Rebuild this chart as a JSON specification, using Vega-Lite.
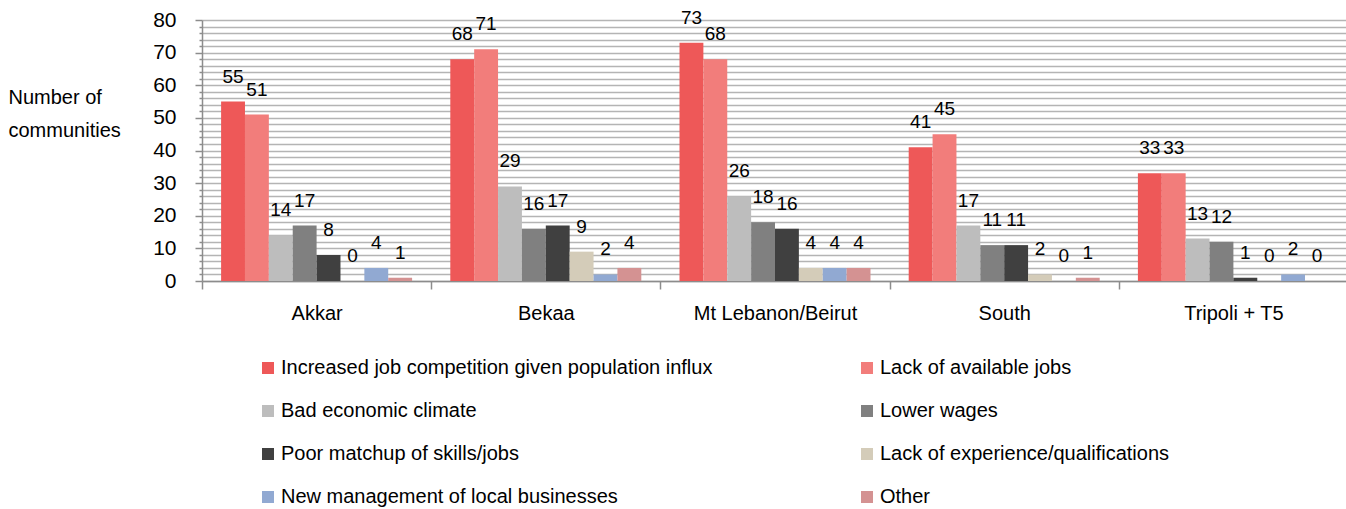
{
  "$schema": "https://vega.github.io/schema/vega-lite/v6.json",
  "autosize": {"type": "none"},
  "padding": {"left": 202, "top": 20, "right": 0, "bottom": 228},
  "width": 1146,
  "height": 261,
  "config": {
    "font": "Liberation Sans",
    "view": {"stroke": null},
    "axis": {"labelFont": "Liberation Sans", "titleFont": "Liberation Sans", "labelColor": "#000000", "titleColor": "#000000"}
  },
  "data": {
    "values": [
      {"region": "Akkar", "reason": "Increased job competition given population influx", "count": 55},
      {"region": "Akkar", "reason": "Lack of available jobs", "count": 51},
      {"region": "Akkar", "reason": "Bad economic climate", "count": 14},
      {"region": "Akkar", "reason": "Lower wages", "count": 17},
      {"region": "Akkar", "reason": "Poor matchup of skills/jobs", "count": 8},
      {"region": "Akkar", "reason": "Lack of experience/qualifications", "count": 0},
      {"region": "Akkar", "reason": "New management of local businesses", "count": 4},
      {"region": "Akkar", "reason": "Other", "count": 1},
      {"region": "Bekaa", "reason": "Increased job competition given population influx", "count": 68},
      {"region": "Bekaa", "reason": "Lack of available jobs", "count": 71},
      {"region": "Bekaa", "reason": "Bad economic climate", "count": 29},
      {"region": "Bekaa", "reason": "Lower wages", "count": 16},
      {"region": "Bekaa", "reason": "Poor matchup of skills/jobs", "count": 17},
      {"region": "Bekaa", "reason": "Lack of experience/qualifications", "count": 9},
      {"region": "Bekaa", "reason": "New management of local businesses", "count": 2},
      {"region": "Bekaa", "reason": "Other", "count": 4},
      {"region": "Mt Lebanon/Beirut", "reason": "Increased job competition given population influx", "count": 73},
      {"region": "Mt Lebanon/Beirut", "reason": "Lack of available jobs", "count": 68},
      {"region": "Mt Lebanon/Beirut", "reason": "Bad economic climate", "count": 26},
      {"region": "Mt Lebanon/Beirut", "reason": "Lower wages", "count": 18},
      {"region": "Mt Lebanon/Beirut", "reason": "Poor matchup of skills/jobs", "count": 16},
      {"region": "Mt Lebanon/Beirut", "reason": "Lack of experience/qualifications", "count": 4},
      {"region": "Mt Lebanon/Beirut", "reason": "New management of local businesses", "count": 4},
      {"region": "Mt Lebanon/Beirut", "reason": "Other", "count": 4},
      {"region": "South", "reason": "Increased job competition given population influx", "count": 41},
      {"region": "South", "reason": "Lack of available jobs", "count": 45},
      {"region": "South", "reason": "Bad economic climate", "count": 17},
      {"region": "South", "reason": "Lower wages", "count": 11},
      {"region": "South", "reason": "Poor matchup of skills/jobs", "count": 11},
      {"region": "South", "reason": "Lack of experience/qualifications", "count": 2},
      {"region": "South", "reason": "New management of local businesses", "count": 0},
      {"region": "South", "reason": "Other", "count": 1},
      {"region": "Tripoli + T5", "reason": "Increased job competition given population influx", "count": 33},
      {"region": "Tripoli + T5", "reason": "Lack of available jobs", "count": 33},
      {"region": "Tripoli + T5", "reason": "Bad economic climate", "count": 13},
      {"region": "Tripoli + T5", "reason": "Lower wages", "count": 12},
      {"region": "Tripoli + T5", "reason": "Poor matchup of skills/jobs", "count": 1},
      {"region": "Tripoli + T5", "reason": "Lack of experience/qualifications", "count": 0},
      {"region": "Tripoli + T5", "reason": "New management of local businesses", "count": 2},
      {"region": "Tripoli + T5", "reason": "Other", "count": 0}
    ]
  },
  "encoding": {
    "x": {
      "field": "region", "type": "nominal", "sort": null,
      "scale": {"paddingInner": 0, "paddingOuter": 0},
      "axis": {
        "title": null, "labelAngle": 0, "labelFontSize": 20, "labelPadding": 14,
        "tickBand": "extent", "tickSize": 8, "tickColor": "#8c8c8c", "tickWidth": 1.5,
        "domainColor": "#8c8c8c", "domainWidth": 1.5, "grid": false
      }
    },
    "xOffset": {
      "field": "reason", "type": "nominal",
      "sort": ["Increased job competition given population influx", "Lack of available jobs", "Bad economic climate", "Lower wages", "Poor matchup of skills/jobs", "Lack of experience/qualifications", "New management of local businesses", "Other"],
      "scale": {"paddingInner": 0, "paddingOuter": 0.8}
    },
    "y": {
      "field": "count", "type": "quantitative",
      "scale": {"domain": [0, 80], "nice": false},
      "axis": {
        "values": [0,2,4,6,8,10,12,14,16,18,20,22,24,26,28,30,32,34,36,38,40,42,44,46,48,50,52,54,56,58,60,62,64,66,68,70,72,74,76,78,80],
        "labelExpr": "datum.value % 10 === 0 ? datum.label : ''",
        "labelFontSize": 21, "labelPadding": 19,
        "tickSize": {"condition": {"test": "datum.value % 10 === 0", "value": 7}, "value": 3},
        "tickColor": "#8c8c8c", "tickWidth": 1.5,
        "domainColor": "#8c8c8c", "domainWidth": 1.5,
        "grid": true, "gridColor": "#b4b4b4", "gridWidth": 1.5,
        "title": ["Number of", "communities"],
        "titleAngle": 0, "titleFontSize": 20, "titleFontWeight": "normal",
        "titleAlign": "left", "titleBaseline": "middle",
        "titleX": -194, "titleY": 77, "titleLineHeight": 33
      }
    }
  },
  "layer": [
    {
      "mark": {"type": "bar"},
      "encoding": {
        "color": {
          "field": "reason", "type": "nominal",
          "scale": {
            "domain": ["Increased job competition given population influx", "Lack of available jobs", "Bad economic climate", "Lower wages", "Poor matchup of skills/jobs", "Lack of experience/qualifications", "New management of local businesses", "Other"],
            "range": ["#ee5858", "#f27d7b", "#bdbdbd", "#808080", "#404040", "#d4ccb9", "#91a9d2", "#d49292"]
          },
          "legend": {
            "title": null, "orient": "none", "legendX": 56, "legendY": 338,
            "values": ["Increased job competition given population influx", "Bad economic climate", "Poor matchup of skills/jobs", "New management of local businesses", "Lack of available jobs", "Lower wages", "Lack of experience/qualifications", "Other"],
            "columns": 2, "columnPadding": 144, "rowPadding": 23,
            "symbolType": "square", "symbolSize": 144, "symbolStrokeWidth": 0,
            "labelFontSize": 20, "labelFont": "Liberation Sans", "labelColor": "#000000",
            "labelOffset": 3, "labelLimit": 600
          }
        }
      }
    },
    {
      "mark": {"type": "text", "baseline": "bottom", "dy": -15, "fontSize": 19, "font": "Liberation Sans", "color": "#000000"},
      "encoding": {
        "text": {"field": "count", "type": "quantitative"}
      }
    }
  ]
}
